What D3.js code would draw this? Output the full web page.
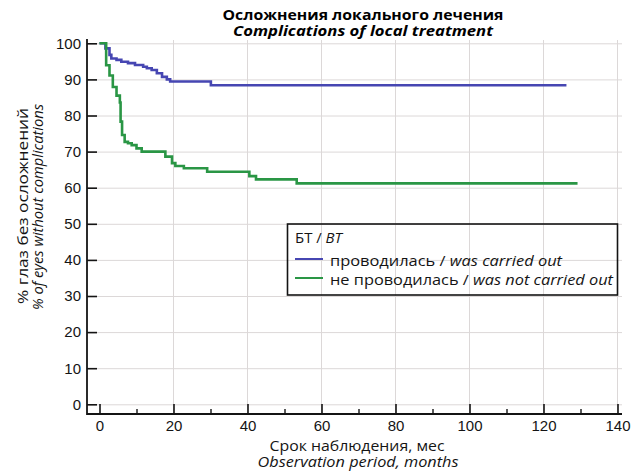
<!DOCTYPE html>
<html><head><meta charset="utf-8">
<script src="https://cdn.jsdelivr.net/npm/d3@7"></script>
<style>body{margin:0;background:#fff}</style></head>
<body><svg id="c" width="639" height="475"></svg>
<script>
// ---- data ----
const blueMonths = [0, 1.6, 2.7, 3.2, 4.6, 5.9, 7.7, 9.6, 11.8, 12.8, 14.1, 15.5, 16.9, 18.2, 19.1, 30.1, 126.2];
const blueValues = [100, 98.6, 96.8, 95.8, 95.4, 94.9, 94.5, 94.0, 93.5, 93.1, 92.6, 91.7, 90.7, 90.0, 89.4, 88.4, 88.4];
const greenMonths = [0, 1.8, 2.7, 3.6, 4.6, 5.5, 5.7, 6.1, 6.8, 7.7, 8.7, 10.0, 11.4, 17.8, 19.6, 20.5, 22.8, 29.1, 40.5, 42.3, 53.3, 129.2];
const greenValues = [100, 93.9, 91.1, 87.9, 85.5, 83.6, 78.3, 74.6, 72.7, 72.3, 71.8, 70.9, 70.0, 68.6, 66.8, 66.0, 65.4, 64.4, 63.2, 62.3, 61.2, 61.2];
const xTicks = [0, 20, 40, 60, 80, 100, 120, 140];
const xMinorTicks = [10, 30, 50, 70, 90, 110, 130];
const yTicks = [0, 10, 20, 30, 40, 50, 60, 70, 80, 90, 100];
const seriesNames = ["проводилась / ", "не проводилась / "];
const seriesNamesEn = ["was carried out", "was not carried out"];
const titleRu = "Осложнения локального лечения";
const titleEn = "Complications of local treatment";
const xTitleRu = "Срок наблюдения, мес";
const xTitleEn = "Observation period, months";
const yTitleRu = "% глаз без осложнений";
const yTitleEn = "% of eyes without complications";
const legendTitle = ["БТ / ", "ВТ"];
const colors = ["#4646b2", "#2a9645"];

// ---- layout ----
const svg = d3.select("#c");
const x = d3.scaleLinear().domain([0, 140]).range([99.5, 617.5]);
const y = d3.scaleLinear().domain([0, 100]).range([404.3, 43.3]);
const axisX = 87, axisY = 414, plotTop = 40, plotRight = 622;
const sans = "'Open Sans', 'Noto Sans', sans-serif";
const num = "'Liberation Sans', Arial, sans-serif";
const ink = "#141414";

function fitText(sel, len) {
  return sel.attr("textLength", len).attr("lengthAdjust", "spacingAndGlyphs");
}

// gridlines
const grid = svg.append("g").attr("stroke", "#dcd8d8").attr("stroke-width", 1);
grid.selectAll("line.h").data(yTicks).join("line")
  .attr("x1", axisX).attr("x2", plotRight)
  .attr("y1", d => y(d) + 0.5).attr("y2", d => y(d) + 0.5);
grid.selectAll("line.v").data(xTicks.filter(d => d > 0)).join("line")
  .attr("x1", d => x(d)).attr("x2", d => x(d))
  .attr("y1", plotTop).attr("y2", axisY);

// curves
const seriesData = [
  blueMonths.map((m, i) => [m, blueValues[i]]),
  greenMonths.map((m, i) => [m, greenValues[i]])
];
const line = d3.line().x(d => x(d[0])).y(d => y(d[1])).curve(d3.curveStepAfter);
svg.append("g").selectAll("path").data(seriesData).join("path")
  .attr("d", line).attr("fill", "none")
  .attr("stroke", (d, i) => colors[i]).attr("stroke-width", 2.6);

// x axis
const gx = svg.append("g").attr("transform", `translate(0,${axisY})`)
  .call(d3.axisBottom(x).tickValues(xTicks).tickSizeInner(-10).tickSizeOuter(0).tickPadding(6));
gx.select(".domain").remove();
gx.selectAll("line").attr("stroke", ink).attr("stroke-width", 1.6);
gx.selectAll("text").attr("font-family", num).attr("font-size", 15).attr("fill", ink);
const gxm = svg.append("g").attr("transform", `translate(0,${axisY})`)
  .call(d3.axisBottom(x).tickValues(xMinorTicks).tickSizeInner(-5).tickSizeOuter(0).tickFormat(""));
gxm.select(".domain").remove();
gxm.selectAll("line").attr("stroke", ink).attr("stroke-width", 1.4);

// y axis
const gy = svg.append("g").attr("transform", `translate(${axisX},0)`)
  .call(d3.axisLeft(y).tickValues(yTicks).tickSizeInner(-10).tickSizeOuter(0).tickPadding(6));
gy.select(".domain").remove();
gy.selectAll("line").attr("stroke", ink).attr("stroke-width", 1.6);
gy.selectAll("text").attr("font-family", num).attr("font-size", 15).attr("fill", ink);

// axis lines
svg.append("path")
  .attr("d", `M${axisX},${plotTop - 1}V${axisY}H${plotRight}`)
  .attr("fill", "none").attr("stroke", ink).attr("stroke-width", 1.8);

// titles
fitText(svg.append("text").attr("x", 363).attr("y", 20).attr("text-anchor", "middle")
  .attr("font-family", sans).attr("font-weight", 700).attr("font-size", 14)
  .attr("fill", "#000").text(titleRu), 281);
fitText(svg.append("text").attr("x", 363).attr("y", 36).attr("text-anchor", "middle")
  .attr("font-family", sans).attr("font-weight", 700).attr("font-style", "italic").attr("font-size", 14)
  .attr("fill", "#000").text(titleEn), 260);

// x title
fitText(svg.append("text").attr("x", 357).attr("y", 451).attr("text-anchor", "middle")
  .attr("font-family", sans).attr("font-size", 14.5).attr("fill", ink).text(xTitleRu), 175);
fitText(svg.append("text").attr("x", 358).attr("y", 467).attr("text-anchor", "middle")
  .attr("font-family", sans).attr("font-style", "italic").attr("font-size", 14.5).attr("fill", ink).text(xTitleEn), 201);

// y title
fitText(svg.append("text").attr("transform", "translate(28,206) rotate(-90)").attr("text-anchor", "middle")
  .attr("font-family", sans).attr("font-size", 14.5).attr("fill", ink).text(yTitleRu), 196);
fitText(svg.append("text").attr("transform", "translate(43,207) rotate(-90)").attr("text-anchor", "middle")
  .attr("font-family", sans).attr("font-style", "italic").attr("font-size", 14.5).attr("fill", ink).text(yTitleEn), 206);

// legend
const lg = svg.append("g");
lg.append("rect").attr("x", 287.5).attr("y", 224).attr("width", 330).attr("height", 71)
  .attr("fill", "none").attr("stroke", ink).attr("stroke-width", 1.6);
const lt = lg.append("text").attr("x", 295).attr("y", 243).attr("font-family", sans)
  .attr("font-size", 14.5).attr("fill", ink);
lt.append("tspan").text(legendTitle[0]);
lt.append("tspan").attr("font-style", "italic").text(legendTitle[1]);
fitText(lt, 47);
const items = lg.selectAll("g.item").data(seriesNames).join("g")
  .attr("transform", (d, i) => `translate(0,${i * 19})`);
items.append("line").attr("x1", 295).attr("x2", 323).attr("y1", 259).attr("y2", 259)
  .attr("stroke", (d, i) => colors[i]).attr("stroke-width", 2);
const it = items.append("text").attr("x", 330).attr("y", 266).attr("font-family", sans)
  .attr("font-size", 14.5).attr("fill", ink);
it.append("tspan").text(d => d);
it.append("tspan").attr("font-style", "italic").text((d, i) => seriesNamesEn[i]);
it.each(function(d, i) { fitText(d3.select(this), [232, 283][i]); });
</script>
</body></html>
